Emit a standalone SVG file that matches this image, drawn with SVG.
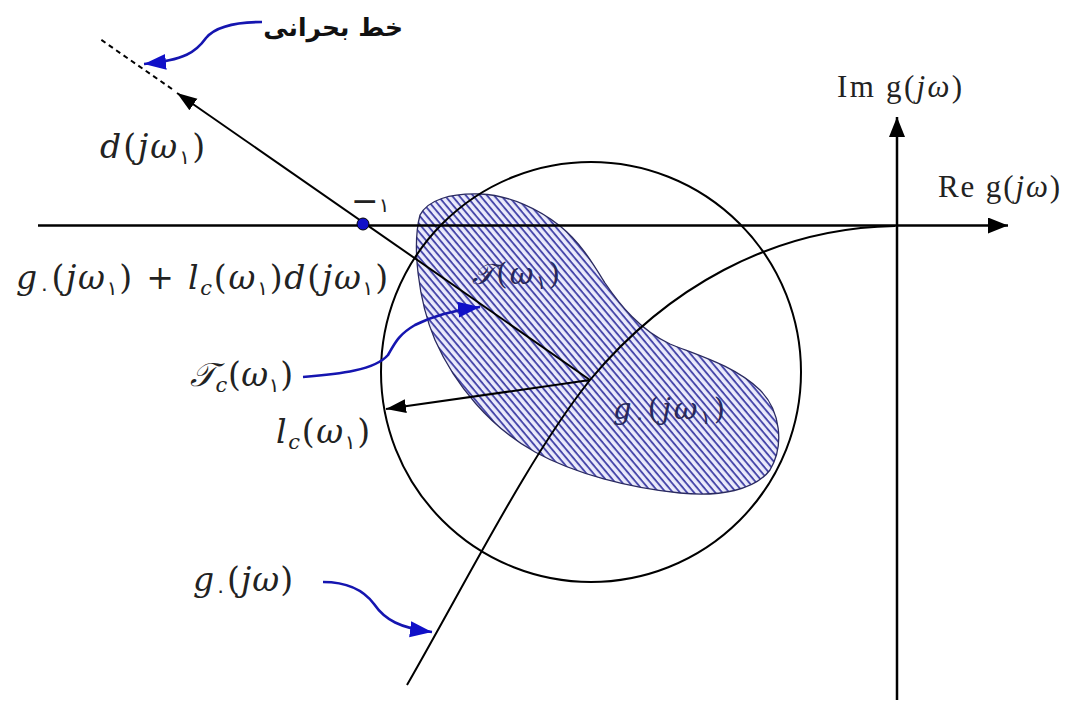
<svg xmlns="http://www.w3.org/2000/svg" width="1068" height="709" viewBox="0 0 1068 709">
<defs>
<style>
.ax{stroke:#000;stroke-width:2.5;fill:none}
.ln{stroke:#000;stroke-width:2;fill:none}
.bl{stroke:#1515b0;stroke-width:2.6;fill:none}
.m{font-family:"DejaVu Serif","Liberation Serif",serif;font-style:italic;font-size:33px;fill:#222}
.up{font-style:normal}
.sub{font-family:"DejaVu Sans",sans-serif;font-style:normal;font-size:20px}
.subi{font-size:21px}
.rm{font-family:"Liberation Serif","DejaVu Serif",serif;font-size:31px;fill:#222}
.fa{font-family:"DejaVu Sans",sans-serif;font-weight:bold;font-size:25px;fill:#111}
.in{fill:#28285a;font-size:29px}
</style>
<marker id="ahk" markerUnits="userSpaceOnUse" markerWidth="24" markerHeight="18" refX="20" refY="8" orient="auto">
<path d="M0,0 L20,8 L0,16 Z" fill="#000"/>
</marker>
<marker id="ahs" markerUnits="userSpaceOnUse" markerWidth="24" markerHeight="18" refX="20" refY="8" orient="auto">
<path d="M0,1 L20,8 L0,15 Z" fill="#000"/>
</marker>
<marker id="ahb" markerUnits="userSpaceOnUse" markerWidth="26" markerHeight="20" refX="22" refY="9" orient="auto">
<path d="M0,1 L22,9 L0,17 Z" fill="#1010c8"/>
</marker>
<pattern id="hatch" patternUnits="userSpaceOnUse" width="6" height="5.4" patternTransform="rotate(50)">
<rect width="6" height="5.4" fill="#ebebfb"/>
<rect y="0" width="6" height="1.9" fill="#4848aa"/>
</pattern>
</defs>
<g id="blob">
<path d="M420,215 C428,200 450,193 480,194 C510,195 540,210 560,226 C580,242 592,262 605,283 C620,305 640,330 670,344 C700,356 735,366 760,390 C780,410 785,445 770,470 C755,490 720,497 680,493 C630,488 575,474 535,452 C490,427 455,385 435,340 C418,300 412,245 420,215 Z" fill="url(#hatch)" stroke="#2a2a60" stroke-width="1.3"/>
</g>
<g id="connectors">
<line id="re-axis" class="ax" x1="38" y1="225.5" x2="1008" y2="225.5" marker-end="url(#ahk)"/>
<line id="im-axis" class="ax" x1="897" y1="700" x2="897" y2="117" marker-end="url(#ahk)"/>
<circle id="circle" cx="591" cy="372" r="210" class="ln"/>
<path id="g0-curve" class="ln" d="M407,685 C470,575 530,455 590,380 C665,290 770,228 895,226"/>
<line id="d-line" class="ln" x1="590" y1="380" x2="177" y2="93" marker-end="url(#ahs)"/>
<line id="crit-line" class="ln" x1="172" y1="89" x2="100" y2="39" stroke-dasharray="5,4" stroke-width="1.8"/>
<line id="radius" class="ln" x1="590" y1="380" x2="386" y2="409" marker-end="url(#ahs)"/>
<path id="crit-arrow" class="bl" d="M262,22 C236,22 216,26 206,38 C196,52 185,60 144,64" marker-end="url(#ahb)"/>
<path id="tc-arrow" class="bl" d="M303,377 C340,374 375,370 388,355 C395,343 398,335 415,325 C435,315 455,310 480,307" marker-end="url(#ahb)"/>
<path id="g0-arrow" class="bl" d="M323,582 C345,582 362,588 374,604 C385,620 400,628 432,632" marker-end="url(#ahb)"/>
</g>
<g id="minus-one">
<circle cx="363" cy="224" r="6" fill="#1010c8" stroke="#000" stroke-width="1"/>
<text x="351" y="212" class="m"><tspan class="up">−</tspan><tspan class="sub" font-size="32">۱</tspan></text>
</g>
<g id="labels">
<text x="403" y="36" class="fa" text-anchor="end">خط بحرانی</text>
<text x="100" y="158" class="m" textLength="105" lengthAdjust="spacing">d<tspan class="up">(</tspan>jω<tspan class="sub" dy="6">۱</tspan><tspan class="up" dy="-6">)</tspan></text>
<text x="16" y="289" class="m" textLength="372" lengthAdjust="spacing">g<tspan class="sub" dy="6">۰</tspan><tspan class="up" dy="-6">(</tspan>jω<tspan class="sub" dy="6">۱</tspan><tspan class="up" dy="-6">) + </tspan>l<tspan class="subi" dy="6">c</tspan><tspan class="up" dy="-6">(</tspan>ω<tspan class="sub" dy="6">۱</tspan><tspan class="up" dy="-6">)</tspan>d<tspan class="up">(</tspan>jω<tspan class="sub" dy="6">۱</tspan><tspan class="up" dy="-6">)</tspan></text>
<text x="190" y="386" class="m" textLength="103" lengthAdjust="spacing">𝒯<tspan class="subi" dy="6">c</tspan><tspan class="up" dy="-6">(</tspan>ω<tspan class="sub" dy="6">۱</tspan><tspan class="up" dy="-6">)</tspan></text>
<text x="276" y="443" class="m" textLength="94" lengthAdjust="spacing">l<tspan class="subi" dy="6">c</tspan><tspan class="up" dy="-6">(</tspan>ω<tspan class="sub" dy="6">۱</tspan><tspan class="up" dy="-6">)</tspan></text>
<text x="193" y="591" class="m" textLength="100" lengthAdjust="spacing">g<tspan class="sub" dy="6">۰</tspan><tspan class="up" dy="-6">(</tspan>jω<tspan class="up">)</tspan></text>
<text x="472" y="284" class="m in" textLength="88" lengthAdjust="spacing">𝒯<tspan class="up">(</tspan>ω<tspan class="sub" dy="5">۱</tspan><tspan class="up" dy="-5">)</tspan></text>
<text x="613" y="419" class="m in" textLength="112" lengthAdjust="spacing">g<tspan class="sub" dy="5">۰</tspan><tspan class="up" dy="-5">(</tspan>jω<tspan class="sub" dy="5">۱</tspan><tspan class="up" dy="-5">)</tspan></text>
<text x="837" y="97" class="rm" textLength="125" lengthAdjust="spacing">Im g(<tspan font-style="italic">jω</tspan>)</text>
<text x="938" y="197" class="rm" textLength="122" lengthAdjust="spacing">Re g(<tspan font-style="italic">jω</tspan>)</text>
</g>
</svg>
